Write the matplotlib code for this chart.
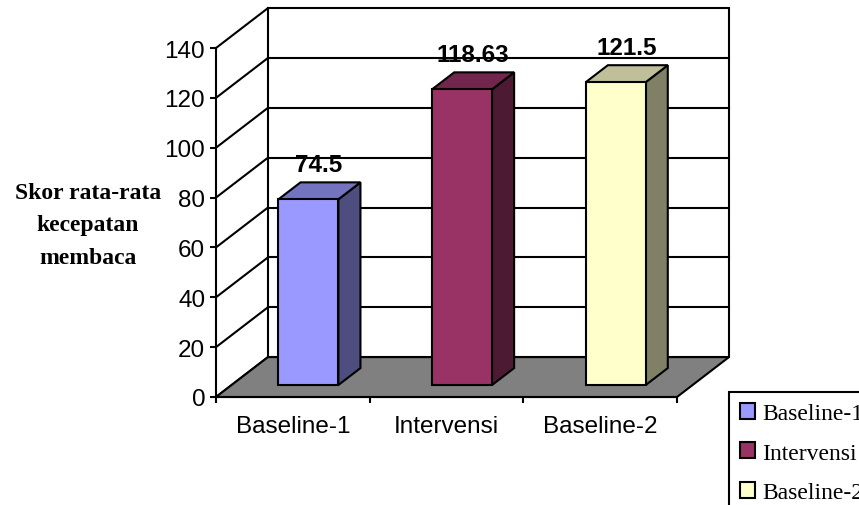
import numpy as np
import matplotlib
matplotlib.use("Agg")
import matplotlib.pyplot as plt
from matplotlib.patches import Polygon, Patch

# data
categories = ["Baseline-1", "Intervensi", "Baseline-2"]
scores = [74.5, 118.63, 121.5]
score_labels = ["74.5", "118.63", "121.5"]
y_ticks = [0, 20, 40, 60, 80, 100, 120, 140]

front_colors = ["#9999FF", "#993366", "#FFFFCC"]
top_colors = ["#7373BF", "#73264D", "#BFBF99"]
side_colors = ["#4D4D80", "#4D1A33", "#808066"]

W, H = 859, 506
fig = plt.figure(figsize=(W / 100, H / 100), dpi=100)
# front plane of the 3d box: x in category units, y in score units
ax = fig.add_axes([216 / W, (H - 398) / H, (677 - 216) / W, (398 - 49) / H])
n = len(categories)
ymax = y_ticks[-1]
ax.set_xlim(0, n)
ax.set_ylim(0, ymax)
ax.patch.set_visible(False)

# depth of the box (shift of the back plane), in data units
dx, dy = 0.338, 16.0
lw = 1.5

# back wall
wall = Polygon([(dx, dy), (n + dx, dy), (n + dx, ymax + dy), (dx, ymax + dy)],
               closed=True, facecolor="white", edgecolor="black", lw=lw,
               clip_on=False, zorder=1)
ax.add_patch(wall)
for v in y_ticks[1:-1]:
    ax.plot([dx, n + dx], [v + dy, v + dy], color="black", lw=lw,
            clip_on=False, zorder=2)
# side wall lines
for v in y_ticks:
    ax.plot([0, dx], [v, v + dy], color="black", lw=lw, clip_on=False, zorder=2)

# floor
floor = Polygon([(0, 0), (n, 0), (n + dx, dy), (dx, dy)], closed=True,
                facecolor="#808080", edgecolor="black", lw=lw,
                clip_on=False, zorder=3)
ax.add_patch(floor)

# bars
w = 0.39
f0, f1 = 0.3, 0.725
for i, v in enumerate(scores):
    c = i + 0.5
    xl, xr = c - w / 2, c + w / 2
    side = [(xr + f0 * dx, f0 * dy), (xr + f1 * dx, f1 * dy),
            (xr + f1 * dx, v + f1 * dy), (xr + f0 * dx, v + f0 * dy)]
    top = [(xl + f0 * dx, v + f0 * dy), (xr + f0 * dx, v + f0 * dy),
           (xr + f1 * dx, v + f1 * dy), (xl + f1 * dx, v + f1 * dy)]
    front = [(xl + f0 * dx, f0 * dy), (xr + f0 * dx, f0 * dy),
             (xr + f0 * dx, v + f0 * dy), (xl + f0 * dx, v + f0 * dy)]
    for pts, col in [(side, side_colors[i]), (top, top_colors[i]),
                     (front, front_colors[i])]:
        ax.add_patch(Polygon(pts, closed=True, facecolor=col,
                             edgecolor="black", lw=lw, clip_on=False, zorder=4))
    ax.text(c + 0.17, v + 18.6, score_labels[i], ha="center", va="center",
            fontsize=17.5, fontweight="bold", family="Liberation Sans",
            clip_on=False, zorder=6)

# axes
for s in ["top", "right"]:
    ax.spines[s].set_visible(False)
for s in ["left", "bottom"]:
    ax.spines[s].set_linewidth(lw)
    ax.spines[s].set_zorder(5)
ax.set_yticks(y_ticks)
ax.set_yticklabels([str(t) for t in y_ticks], fontsize=17.5,
                   family="Liberation Sans")
ax.tick_params(axis="y", direction="out", length=4.3, width=lw, pad=3.5)
ax.set_xticks(np.arange(n + 1))
ax.set_xticklabels([])
ax.set_xticks(np.arange(n) + 0.5, minor=True)
ax.set_xticklabels(categories, minor=True, fontsize=17.5,
                   family="Liberation Sans")
ax.tick_params(axis="x", which="major", direction="out", length=4.3, width=lw)
ax.tick_params(axis="x", which="minor", length=0, pad=13)

fig.text(88 / W, 1 - 226 / H, "Skor rata-rata\nkecepatan\nmembaca",
         ha="center", va="center", fontsize=17, fontweight="bold",
         family="Liberation Serif", linespacing=1.7)

handles = [Patch(facecolor=front_colors[i], edgecolor="black", lw=1.5)
           for i in range(n)]
leg = fig.legend(handles, categories, loc="upper left",
                 bbox_to_anchor=(729 / W, 1 - 393 / H),
                 prop={"family": "Liberation Serif", "size": 17},
                 frameon=True, fancybox=False, shadow=False, framealpha=1,
                 handlelength=0.67, handleheight=0.67, handletextpad=0.3,
                 labelspacing=0.78, borderpad=0.45, borderaxespad=0)
leg.get_frame().set_edgecolor("black")
leg.get_frame().set_linewidth(1.5)

fig.savefig("out.png", dpi=100)
